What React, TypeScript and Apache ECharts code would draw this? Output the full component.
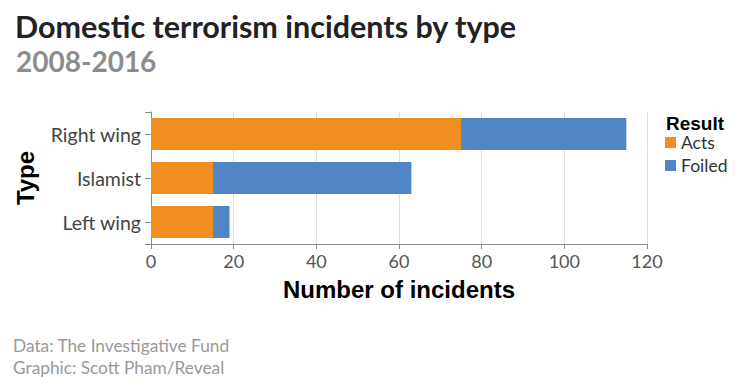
import React, { useEffect, useRef } from "react";
import * as echarts from "echarts";

const categories = ["Right wing", "Islamist", "Left wing"];
const acts = [75, 15, 15];
const foiled = [40, 48, 4];
const xTicks = { min: 0, max: 120, interval: 20 };

const GRID = { left: 151, top: 112, width: 496, height: 132 };
const LATO = "Lato, 'Noto Sans', sans-serif";
const HELV = "'Liberation Sans', Arial, sans-serif";

export default function App() {
  const ref = useRef<HTMLDivElement>(null);
  useEffect(() => {
    if (!ref.current) return;
    const chart = echarts.init(ref.current, undefined, { renderer: "svg" });
    const axisColor = "#888888";
    const bottom = GRID.top + GRID.height;
    chart.setOption({
      animation: false,
      backgroundColor: "#ffffff",
      grid: { left: GRID.left, top: GRID.top, width: GRID.width, height: GRID.height, containLabel: false },
      legend: {
        orient: "vertical",
        left: 665,
        top: 133.5,
        padding: 0,
        itemWidth: 11,
        itemHeight: 11,
        itemGap: 5,
        icon: "rect",
        textStyle: { fontFamily: LATO, fontSize: 17.5, color: "#333333" },
        data: ["Acts", "Foiled"],
      },
      xAxis: {
        type: "value",
        min: xTicks.min,
        max: xTicks.max,
        interval: xTicks.interval,
        name: "Number of incidents",
        nameLocation: "middle",
        nameGap: 33,
        nameTextStyle: { fontFamily: HELV, fontSize: 24, fontWeight: "bold", color: "#000000" },
        axisLine: { show: true, lineStyle: { color: axisColor, width: 1 } },
        axisTick: { show: true, length: 5, lineStyle: { color: axisColor } },
        axisLabel: { fontFamily: LATO, fontSize: 18, color: "#555555", margin: 8 },
        splitLine: { show: true, lineStyle: { color: "#dddddd", width: 1 } },
      },
      yAxis: {
        type: "category",
        inverse: true,
        data: categories,
        name: "Type",
        nameLocation: "middle",
        nameGap: 114,
        nameTextStyle: { fontFamily: HELV, fontSize: 24, fontWeight: "bold", color: "#000000" },
        axisLine: { show: true, lineStyle: { color: axisColor, width: 1 } },
        axisTick: { show: true, alignWithLabel: true, length: 6, lineStyle: { color: axisColor } },
        axisLabel: { fontFamily: LATO, fontSize: 19.5, color: "#444444", margin: 10 },
        splitLine: { show: false },
      },
      series: [
        {
          name: "Acts",
          type: "bar",
          stack: "total",
          data: acts,
          barWidth: 32,
          itemStyle: { color: "#F28D22" },
        },
        {
          name: "Foiled",
          type: "bar",
          stack: "total",
          data: foiled,
          barWidth: 32,
          itemStyle: { color: "#5085C6" },
        },
      ],
      graphic: [
        { type: "line", shape: { x1: GRID.left - 6, y1: GRID.top + 0.5, x2: GRID.left, y2: GRID.top + 0.5 }, style: { stroke: axisColor, lineWidth: 1 } },
        { type: "line", shape: { x1: GRID.left - 6, y1: bottom + 0.5, x2: GRID.left, y2: bottom + 0.5 }, style: { stroke: axisColor, lineWidth: 1 } },
        { type: "text", x: 15, y: 25.5, style: { text: "Domestic terrorism incidents by type", font: `bold 30.5px ${LATO}`, fill: "#222222", verticalAlign: "middle" } },
        { type: "text", x: 16, y: 61, style: { text: "2008-2016", font: `bold 28px ${LATO}`, fill: "#8c8c8c", verticalAlign: "middle" } },
        { type: "text", x: 666, y: 123, style: { text: "Result", font: `bold 19px ${HELV}`, fill: "#000000", verticalAlign: "middle" } },
        { type: "text", x: 13, y: 345.5, style: { text: "Data: The Investigative Fund", font: `17.3px ${LATO}`, fill: "#999999", verticalAlign: "middle" } },
        { type: "text", x: 13, y: 367.5, style: { text: "Graphic: Scott Pham/Reveal", font: `17.3px ${LATO}`, fill: "#999999", verticalAlign: "middle" } },
      ],
    });
    return () => chart.dispose();
  }, []);
  return <div ref={ref} style={{ width: 738, height: 383, position: "absolute", left: 0, top: 0 }} />;
}
